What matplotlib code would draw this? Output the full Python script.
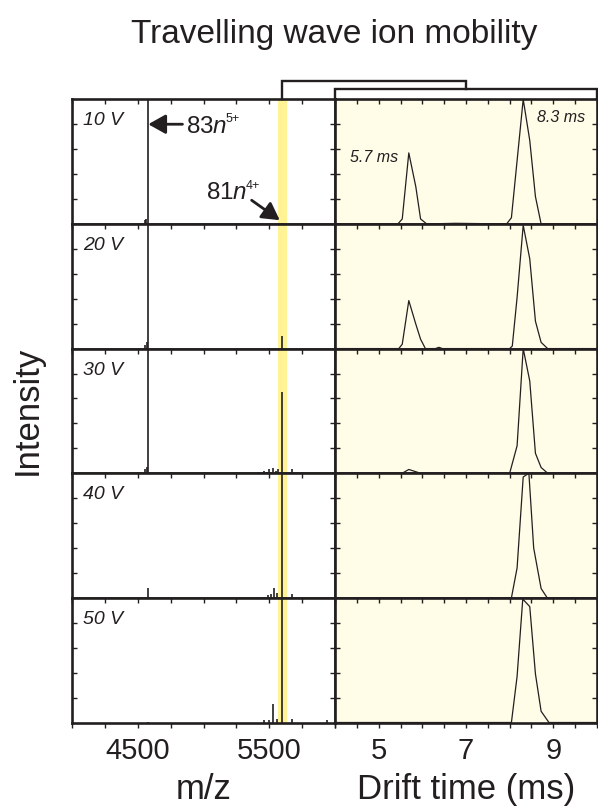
import matplotlib
matplotlib.use("Agg")
import matplotlib.pyplot as plt
import numpy as np

plt.rcParams['font.family'] = ['Liberation Sans', 'DejaVu Sans']
plt.rcParams['mathtext.fontset'] = 'custom'
plt.rcParams['mathtext.rm'] = 'Liberation Sans'
plt.rcParams['mathtext.it'] = 'Liberation Sans:italic'

INK = '#231f20'
BAND = '#fff396'
PANEL_BG = '#fffce8'

# ---------------- data ----------------
voltages = ['10 V', '20 V', '30 V', '40 V', '50 V']

# mass spectra: peak positions (m/z) and relative intensities per voltage
ms_mz_10 = [4555, 4566, 4575, 5600]
ms_int_10 = [0.03, 0.04, 1.0, 0.01]
ms_mz_20 = [4555, 4568, 4575, 5500, 5600]
ms_int_20 = [0.03, 0.05, 1.0, 0.005, 0.10]
ms_mz_30 = [4555, 4568, 4575, 5370, 5420, 5460, 5480, 5500, 5530, 5550, 5570, 5600, 5670]
ms_int_30 = [0.03, 0.05, 1.0, 0.005, 0.01, 0.02, 0.01, 0.03, 0.04, 0.02, 0.03, 0.65, 0.03]
ms_mz_40 = [4575, 5460, 5490, 5510, 5533, 5560, 5600, 5674]
ms_int_40 = [0.08, 0.01, 0.02, 0.03, 0.08, 0.04, 1.0, 0.03]
ms_mz_50 = [4575, 5462, 5500, 5528, 5560, 5600, 5674, 5940]
ms_int_50 = [0.005, 0.02, 0.02, 0.15, 0.03, 1.0, 0.03, 0.02]

ms_mz = [ms_mz_10, ms_mz_20, ms_mz_30, ms_mz_40, ms_mz_50]
ms_int = [ms_int_10, ms_int_20, ms_int_30, ms_int_40, ms_int_50]

selected_mz = 5600          # 81n4+ ion selected for mobility
band_lo, band_hi = 5567, 5635

# drift time profiles (ms, relative intensity)
dt_10 = [4.0, 5.44, 5.54, 5.69, 5.85, 5.96, 6.10, 6.76, 7.93, 8.04, 8.31, 8.46, 8.59, 8.72, 10.0]
it_10 = [0.0, 0.0, 0.04, 0.57, 0.30, 0.04, 0.0, 0.005, 0.0, 0.05, 1.0, 0.67, 0.22, 0.0, 0.0]
dt_20 = [4.0, 5.46, 5.54, 5.69, 5.85, 5.96, 6.07, 6.30, 6.38, 6.46, 8.00, 8.06, 8.17, 8.31, 8.46, 8.59, 8.72, 8.87, 10.0]
it_20 = [0.0, 0.0, 0.035, 0.385, 0.197, 0.075, 0.0, 0.0, 0.01, 0.0, 0.0, 0.02, 0.41, 0.99, 0.72, 0.22, 0.05, 0.0, 0.0]
dt_30 = [4.0, 5.54, 5.69, 5.85, 5.96, 8.00, 8.17, 8.31, 8.46, 8.59, 8.72, 8.87, 10.0]
it_30 = [0.0, 0.0, 0.03, 0.012, 0.0, 0.0, 0.22, 1.0, 0.74, 0.16, 0.046, 0.0, 0.0]
dt_40 = [4.0, 8.04, 8.17, 8.31, 8.44, 8.55, 8.72, 8.86, 10.0]
it_40 = [0.0, 0.0, 0.24, 0.97, 1.0, 0.40, 0.075, 0.0, 0.0]
dt_50 = [4.0, 8.04, 8.17, 8.30, 8.46, 8.59, 8.72, 8.90, 10.0]
it_50 = [0.0, 0.0, 0.37, 0.99, 0.93, 0.39, 0.09, 0.0, 0.0]

dts = [dt_10, dt_20, dt_30, dt_40, dt_50]
its = [it_10, it_20, it_30, it_40, it_50]

mz_ticks = np.arange(4000, 6001, 250)
mz_labels = {4500: '4500', 5500: '5500'}
dt_ticks = np.arange(4.0, 10.01, 0.5)
dt_labels = {5.0: '5', 7.0: '7', 9.0: '9'}

# ---------------- layout ----------------
W, H = 598, 807
fig = plt.figure(figsize=(W / 100, H / 100), dpi=100)

x_left0, x_split, x_right1 = 72, 335, 597
y_top, y_bot = 99.3, 722.5
row_h = (y_bot - y_top) / 5

def frac_box(x0, x1, ytop, ybot):
    return [x0 / W, 1 - ybot / H, (x1 - x0) / W, (ybot - ytop) / H]

axes_l, axes_r = [], []
for i in range(5):
    yt = y_top + i * row_h
    yb = yt + row_h
    axl = fig.add_axes(frac_box(x_left0, x_split, yt, yb))
    axr = fig.add_axes(frac_box(x_split, x_right1, yt, yb))
    axes_l.append(axl)
    axes_r.append(axr)

def style(ax, ticks, labels, last):
    for s in ax.spines.values():
        s.set_linewidth(1.9)
        s.set_color(INK)
    ax.set_ylim(0, 1)
    ax.set_yticks([0.2, 0.4, 0.6, 0.8])
    ax.set_xticks(ticks)
    ax.tick_params(axis='y', which='both', direction='in', left=True, right=True,
                   labelleft=False, length=3.5, width=1.0, color=INK)
    ax.tick_params(axis='x', which='both', direction='out', bottom=True, top=False,
                   labelbottom=last, length=3.5, width=1.0, color=INK,
                   labelsize=21, pad=7, labelcolor=INK)
    if last:
        ax.set_xticklabels([labels.get(round(float(t), 2), '') for t in ticks])
    sec = ax.secondary_xaxis('top')
    sec.set_xticks(ticks)
    sec.tick_params(direction='in', length=3.5, width=1.0, color=INK, labeltop=False)
    sec.spines['top'].set_visible(False)

for i in range(5):
    axl, axr = axes_l[i], axes_r[i]
    last = (i == 4)
    axl.set_xlim(4000, 6000)
    axl.axvspan(band_lo, band_hi, color=BAND, lw=0, zorder=0)
    axl.vlines(ms_mz[i], 0, ms_int[i], color=INK, lw=1.2, zorder=3)
    style(axl, mz_ticks, mz_labels, last)
    axl.text(0.042, 0.79, voltages[i], transform=axl.transAxes, fontsize=14,
             style='italic', color=INK, va='baseline', ha='left')
    axr.set_xlim(4, 10)
    axr.set_facecolor(PANEL_BG)
    axr.plot(dts[i], its[i], color=INK, lw=0.9, zorder=3, clip_on=True)
    style(axr, dt_ticks, dt_labels, last)

# annotations on 10 V panels
ax0 = axes_l[0]
arrow_style = dict(arrowstyle='-|>,head_length=0.5,head_width=0.28', lw=2.0,
                   color=INK, mutation_scale=21, shrinkA=0, shrinkB=0)
ax0.annotate('', xy=(4580, 0.80), xytext=(4840, 0.80), arrowprops=arrow_style)
ax0.text(4867, 0.727, r'83$\mathit{n}$', fontsize=17.5, color=INK,
         va='baseline', ha='left')
ax0.text(5169, 0.82, '5+', fontsize=9, color=INK, va='baseline', ha='left')
ax0.annotate('', xy=(5580, 0.03), xytext=(5366, 0.19), arrowprops=arrow_style)
ax0.text(5019, 0.20, r'81$\mathit{n}$', fontsize=17.5, color=INK,
         va='baseline', ha='left')
ax0.text(5323, 0.28, '4+', fontsize=9, color=INK, va='baseline', ha='left')

axr0 = axes_r[0]
axr0.text(4.34, 0.50, '5.7 ms', fontsize=11.5, style='italic', color=INK,
          va='baseline', ha='left')
axr0.text(8.62, 0.815, '8.3 ms', fontsize=11.5, style='italic', color=INK,
          va='baseline', ha='left')

# brackets linking selected ion to drift time panel
inv = fig.transFigure.inverted()
def fx(ax, xval):
    return inv.transform(ax.transData.transform((xval, 0)))[0]

xb1 = fx(axes_l[0], selected_mz)
xb2 = fx(axes_r[0], 7.0)
xr0 = fx(axes_r[0], 4.0)
xr1 = fx(axes_r[0], 10.0)
yt_f = 1 - y_top / H
yb1 = 1 - 80.7 / H
yb2 = 1 - 89.3 / H
fig.add_artist(plt.Line2D([xb1, xb1, xb2, xb2], [yt_f, yb1, yb1, yb2],
                          color=INK, lw=1.7, transform=fig.transFigure,
                          solid_joinstyle='miter'))
fig.add_artist(plt.Line2D([xr0, xr0, xr1, xr1], [yt_f, yb2, yb2, yt_f],
                          color=INK, lw=1.7, transform=fig.transFigure,
                          solid_joinstyle='miter'))

# titles and axis labels
fig.text(334 / W, 1 - 42.7 / H, 'Travelling wave ion mobility', fontsize=24,
         color=INK, ha='center', va='baseline')
fig.text((x_left0 + x_split) / 2 / W, 1 - 799 / H, 'm/z', fontsize=25,
         color=INK, ha='center', va='baseline')
fig.text((x_split + x_right1) / 2 / W, 1 - 799 / H, 'Drift time (ms)', fontsize=25,
         color=INK, ha='center', va='baseline')
fig.text(27 / W, 1 - 410 / H, 'Intensity', fontsize=25, color=INK,
         rotation=90, ha='center', va='center')

fig.savefig('out.png', dpi=100, facecolor='white')
